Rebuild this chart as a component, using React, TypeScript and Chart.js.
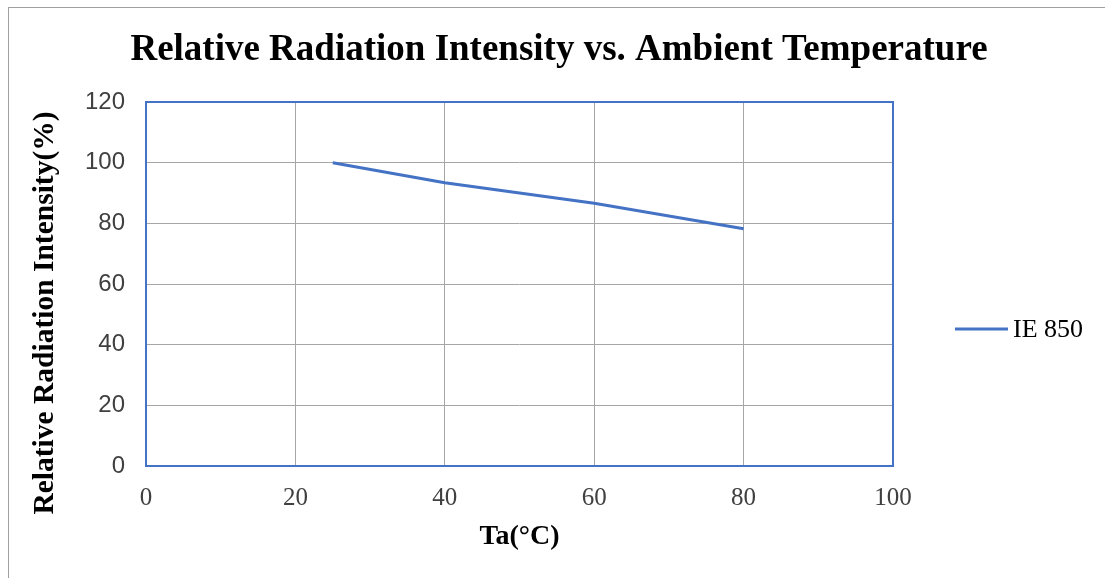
import React, { useEffect, useRef } from "react";
import { Chart, registerables } from "chart.js";

Chart.register(...registerables);

const temperatures = [25, 40, 60, 80];
const intensity = [100, 93.4, 86.6, 78.2];
const seriesName = "IE 850";
const chartTitle = "Relative Radiation Intensity vs. Ambient Temperature";
const xTitle = "Ta(°C)";
const yTitle = "Relative Radiation Intensity(%)";

const BLUE = "#4472c4";
const GRID = "#a6a6a6";
const SERIF = "'Liberation Serif', 'DejaVu Serif', serif";
const SANS = "'Liberation Sans', Arial, sans-serif";

const decorPlugin = {
  id: "decor",
  afterDatasetsDraw(chart: any) {
    const { ctx, chartArea } = chart;
    ctx.save();
    ctx.strokeStyle = BLUE;
    ctx.lineWidth = 2;
    ctx.strokeRect(chartArea.left, chartArea.top, chartArea.right - chartArea.left, chartArea.bottom - chartArea.top);
    ctx.restore();
  },
  afterDraw(chart: any) {
    const { ctx, chartArea, width } = chart;
    // main title
    ctx.save();
    ctx.font = `bold 37px ${SERIF}`;
    ctx.fillStyle = "#000";
    ctx.textAlign = "center";
    ctx.textBaseline = "alphabetic";
    ctx.fillText(chartTitle, width / 2 + 2, 52);
    ctx.restore();

    // y axis title
    ctx.save();
    ctx.font = `bold 29.5px ${SERIF}`;
    ctx.fillStyle = "#000";
    ctx.textAlign = "center";
    ctx.textBaseline = "middle";
    ctx.translate(36, (chartArea.top + chartArea.bottom) / 2 + 29);
    ctx.rotate(-Math.PI / 2);
    ctx.fillText(yTitle, 0, 0);
    ctx.restore();

    // legend
    ctx.save();
    const ds = chart.data.datasets[0];
    const ly = 321;
    const lx = chartArea.right + 62;
    ctx.strokeStyle = ds.borderColor;
    ctx.lineWidth = 3;
    ctx.beginPath();
    ctx.moveTo(lx, ly);
    ctx.lineTo(lx + 53, ly);
    ctx.stroke();
    ctx.font = `26px ${SERIF}`;
    ctx.fillStyle = "#000";
    ctx.textAlign = "left";
    ctx.textBaseline = "alphabetic";
    ctx.fillText(ds.label, lx + 58, ly + 8);
    ctx.restore();
  },
};

export default function App() {
  const ref = useRef<HTMLCanvasElement | null>(null);

  useEffect(() => {
    document.body.style.overflow = "hidden";
    const chart = new Chart(ref.current as HTMLCanvasElement, {
      type: "line",
      data: {
        datasets: [
          {
            label: seriesName,
            data: temperatures.map((t, i) => ({ x: t, y: intensity[i] })),
            borderColor: BLUE,
            backgroundColor: BLUE,
            borderWidth: 3,
            pointRadius: 0,
            tension: 0,
          },
        ],
      },
      options: {
        animation: false,
        responsive: false,
        maintainAspectRatio: false,
        layout: { padding: { left: 0, right: 212, top: 94, bottom: 0 } },
        plugins: {
          legend: { display: false },
          tooltip: { enabled: false },
          title: { display: false },
        },
        scales: {
          x: {
            type: "linear",
            min: 0,
            max: 100,
            ticks: {
              stepSize: 20,
              color: "#404040",
              font: { family: SERIF, size: 25 },
              padding: 17,
            },
            grid: { color: GRID, lineWidth: 1, drawTicks: false },
            border: { display: false },
            title: {
              display: true,
              text: xTitle,
              color: "#000",
              font: { family: SERIF, size: 28, weight: "bold" },
              padding: { top: 0, bottom: 24 },
            },
            afterFit: (scale: any) => {
              scale.height = 112;
            },
          },
          y: {
            min: 0,
            max: 120,
            ticks: {
              stepSize: 20,
              color: "#404040",
              font: { family: SANS, size: 24 },
              padding: 21,
            },
            grid: { color: GRID, lineWidth: 1, drawTicks: false },
            border: { display: false },
            afterFit: (scale: any) => {
              scale.width = 137;
            },
          },
        },
      },
      plugins: [decorPlugin],
    });
    return () => chart.destroy();
  }, []);

  return (
    <div
      style={{
        position: "absolute",
        left: 8,
        top: 7,
        width: 1097,
        height: 571,
        boxSizing: "border-box",
        borderLeft: "1px solid #a0a0a0",
        borderTop: "1px solid #a0a0a0",
        background: "#fff",
        overflow: "hidden",
      }}
    >
      <canvas ref={ref} width={1096} height={570} style={{ display: "block", width: 1096, height: 570 }} />
    </div>
  );
}
